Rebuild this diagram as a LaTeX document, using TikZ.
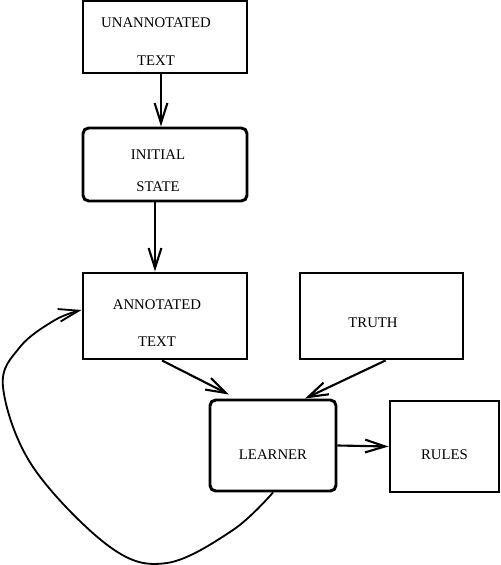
\documentclass[tikz,border=0pt]{standalone}
\usepackage{fontspec}
\setmainfont{Liberation Serif}
\usetikzlibrary{arrows.meta}

\begin{document}
\begin{tikzpicture}[>={Straight Barb[length=5mm,width=3.2mm]},
        box/.style={draw, line width=2.1pt},
        roundbox/.style={box, rounded corners=4pt},
        txt/.style={align=center, font=\fontsize{10.5}{12.5}\selectfont},
        link/.style={->, line width=1.5pt}]
    \useasboundingbox (0,0) rectangle (12.5,14.125);
    % Boxes
    \node[box, minimum width=4.1cm, minimum height=1.8cm] (unann)
        at (4.125,13.2) {};
    \node[roundbox, minimum width=4.1cm, minimum height=1.825cm] (init)
        at (4.125,10.0125) {};
    \node[box, minimum width=4.1cm, minimum height=2.15cm] (annot)
        at (4.125,6.225) {};
    \node[box, minimum width=4.075cm, minimum height=2.15cm] (truth)
        at (9.5375,6.225) {};
    \node[roundbox, minimum width=3.15cm, minimum height=2.275cm] (learner)
        at (6.825,2.9875) {};
    \node[box, minimum width=2.725cm, minimum height=2.275cm] (rules)
        at (11.1125,2.9625) {};
    % Labels
    \node[txt] (unanntext) at ([shift={(-0.225,-0.1125)}]unann.center)
        {UNANNOTATED\\[14pt]TEXT};
    \node[txt] (inittext) at ([shift={(-0.175,-0.1625)}]init.center)
        {INITIAL\\[10pt]STATE};
    \node[txt] (annottext) at ([shift={(-0.2,-0.175)}]annot.center)
        {ANNOTATED\\[13.5pt]TEXT};
    \node[txt] (truthtext) at ([shift={(-0.2125,-0.175)}]truth.center) {TRUTH};
    \node[txt] (learnertext) at ([yshift=-0.2375cm]learner.center) {LEARNER};
    \node[txt] (rulestext) at ([yshift=-0.2125cm]rules.center) {RULES};
    % Loop points
    \coordinate (loopa) at (5.825,0.875);
    \coordinate (loopbottom) at (4.175,0.05);
    \coordinate (loopb) at (2.75,0.45);
    \coordinate (loopc) at (0.825,2.45);
    \coordinate (loopleft) at (0.075,4.45);
    \coordinate (loopd) at (0.5,5.45);
    \coordinate (loope) at (1.375,6.125);
    % Connectors
    \draw[link] ([xshift=-0.1cm]unann.south) -- ([xshift=-0.1cm]init.north);
    \draw[link] ([xshift=-0.25cm]init.south) -- ([xshift=-0.25cm]annot.north);
    \draw[link] ([xshift=-0.075cm]annot.south)
        -- ([xshift=-1.1cm, yshift=0.1cm]learner.north);
    \draw[link] ([xshift=0.1cm]truth.south) -- ([xshift=0.8cm]learner.north);
    \draw[link] (learner.east) -- (rules.west);
    \draw[link, line width=1.3pt] plot[smooth, tension=0.6] coordinates
        {(learner.south) (loopa) (loopbottom) (loopb) (loopc) (loopleft)
         (loopd) (loope) ([yshift=0.15cm]annot.west)}; % feedback
\end{tikzpicture}
\end{document}
